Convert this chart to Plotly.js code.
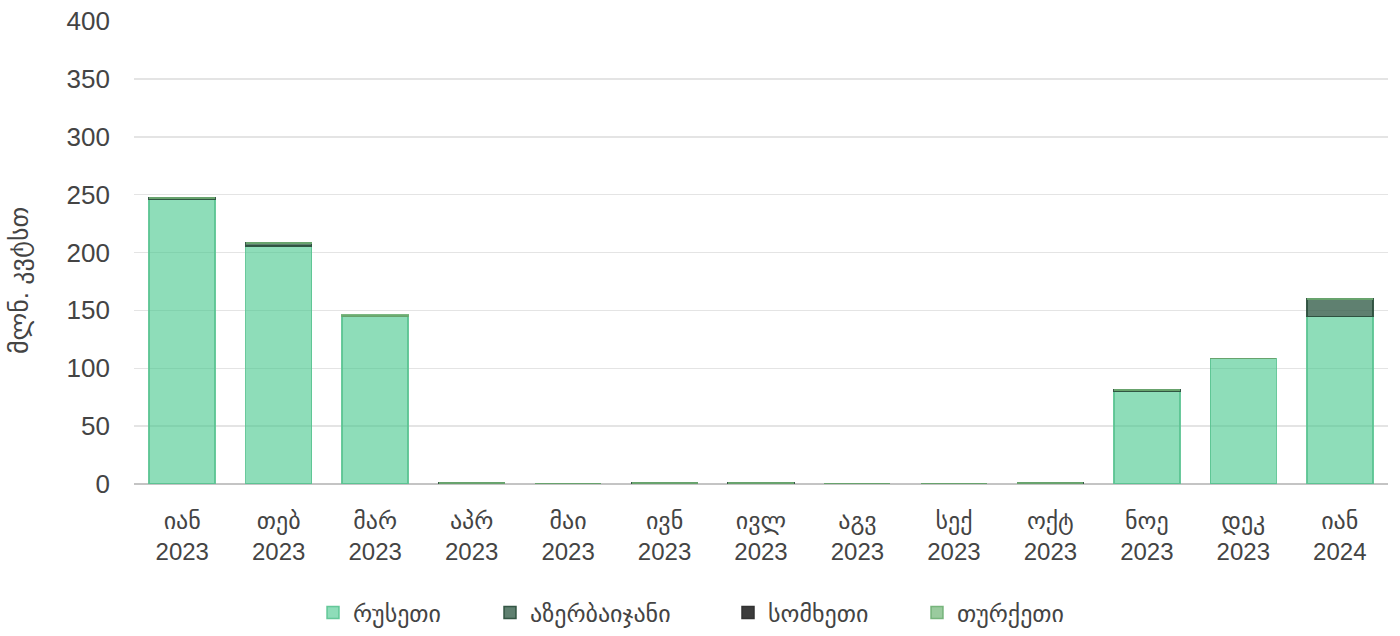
<!DOCTYPE html>
<html>
<head>
<meta charset="utf-8">
<script src="https://cdn.plot.ly/plotly-3.0.1.min.js"></script>
<style>
  html, body { margin: 0; padding: 0; background: #fff; }
  #chart { width: 1400px; height: 636px; }
</style>
</head>
<body>
<div id="chart"></div>
<script>
// Monthly electricity imports by source country (million kWh)
const months = ["იან<br>2023", "თებ<br>2023", "მარ<br>2023", "აპრ<br>2023", "მაი<br>2023", "ივნ<br>2023",
                "ივლ<br>2023", "აგვ<br>2023", "სექ<br>2023", "ოქტ<br>2023", "ნოე<br>2023", "დეკ<br>2023", "იან<br>2024"];
const russia     = [246, 205.5, 145, 0, 0, 0, 0, 0, 0, 0, 80, 108.5, 144.5];
const azerbaijan = [1.2, 2.5, 0, 0.8, 0, 0.8, 0.8, 0, 0, 0.8, 1.2, 0, 15.5];
const armenia    = [0, 0, 0, 0, 0, 0, 0, 0, 0, 0, 0, 0, 0];
const turkey     = [0, 0, 1.2, 0, 0, 0, 0, 0, 0, 0, 0, 0, 0];

const seriesNames = ["რუსეთი", "აზერბაიჯანი", "სომხეთი", "თურქეთი"];
const tickVals = [0, 50, 100, 150, 200, 250, 300, 350, 400];
const yTitle = "მლნ. კვტსთ";

function barTrace(name, values, fill, line, legendId) {
  return {
    type: "bar",
    name: name,
    x: months,
    y: values,
    legend: legendId,
    marker: { color: fill, line: { color: line, width: 1.5 } },
    hoverinfo: "x+y+name"
  };
}

const traces = [
  barTrace(seriesNames[0], russia, "rgba(60,196,134,0.58)", "rgba(90,195,145,0.9)", "legend"),
  barTrace(seriesNames[1], azerbaijan, "rgba(60,100,80,0.82)", "rgba(45,80,62,0.95)", "legend2"),
  barTrace(seriesNames[2], armenia, "rgba(60,60,60,1)", "rgba(50,50,50,1)", "legend3"),
  barTrace(seriesNames[3], turkey, "rgba(120,185,125,0.75)", "rgba(110,175,115,0.9)", "legend4")
];

// one legend box per series so each entry sits at its own spot along the bottom row
function legendAt(xPx) {
  return {
    orientation: "h",
    xref: "container",
    yref: "container",
    x: xPx / 1400,
    xanchor: "left",
    y: 23 / 636,
    yanchor: "middle",
    font: { size: 24, color: "#444" },
    bgcolor: "rgba(0,0,0,0)"
  };
}

const margin = { l: 134, r: 12, t: 21, b: 152, autoexpand: false };
const plotW = 1400 - margin.l - margin.r;
const plotH = 636 - margin.t - margin.b;

const layout = {
  width: 1400,
  height: 636,
  barmode: "stack",
  bargap: 0.316,
  paper_bgcolor: "#ffffff",
  plot_bgcolor: "#ffffff",
  margin: margin,
  font: { family: "Liberation Sans, Arial, DejaVu Sans, sans-serif", color: "#444", size: 22 },
  xaxis: {
    type: "category",
    tickfont: { size: 24, color: "#444" },
    showgrid: false,
    showline: false,
    ticks: "",
    ticklabelstandoff: 20,
    automargin: false,
    fixedrange: true
  },
  yaxis: {
    range: [0, 400],
    tickvals: tickVals,
    tickfont: { size: 26, color: "#444" },
    gridcolor: "#e4e4e4",
    gridwidth: 1.5,
    zeroline: true,
    zerolinecolor: "#c4c4c4",
    zerolinewidth: 2,
    ticks: "",
    ticklabelstandoff: 23,
    automargin: false,
    fixedrange: true
  },
  // vertical axis caption, placed as a rotated annotation left of the tick labels
  annotations: [{
    text: yTitle,
    xref: "paper",
    yref: "paper",
    x: (19 - margin.l) / plotW,
    y: (636 - margin.b - 281) / plotH,
    xanchor: "center",
    yanchor: "middle",
    textangle: -90,
    showarrow: false,
    font: { size: 26, color: "#444" }
  }],
  legend: legendAt(313),
  legend2: legendAt(490),
  legend3: legendAt(728),
  legend4: legendAt(917),
  showlegend: true
};

Plotly.newPlot("chart", traces, layout, { displayModeBar: false, staticPlot: true });
</script>
</body>
</html>
